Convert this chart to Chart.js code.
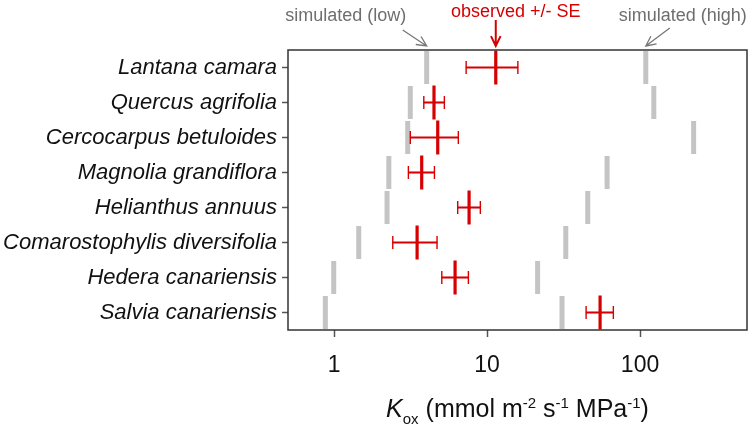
<!DOCTYPE html>
<html>
<head>
<meta charset="utf-8">
<script src="https://cdn.jsdelivr.net/npm/chart.js@4.4.0/dist/chart.umd.min.js"></script>
<style>
  html, body { margin: 0; padding: 0; background: #fff; }
  #wrap { width: 751px; height: 429px; }
</style>
</head>
<body>
<div id="wrap"><canvas id="koxChart"></canvas></div>
<script>
// Kox per species — simulated (low/high) vs observed +/- SE
const species = [
    'Lantana camara',
    'Quercus agrifolia',
    'Cercocarpus betuloides',
    'Magnolia grandiflora',
    'Helianthus annuus',
    'Comarostophylis diversifolia',
    'Hedera canariensis',
    'Salvia canariensis',
];
const simLow   = [4.03, 3.15, 3.03, 2.28, 2.22, 1.45, 0.995, 0.877];
const simHigh  = [109, 123, 224, 60.9, 45.5, 32.7, 21.4, 30.9];
const observed = [11.4, 4.5, 4.76, 3.74, 7.63, 3.49, 6.18, 54.8];
const seLow    = [7.3, 3.86, 3.15, 3.06, 6.43, 2.42, 5.06, 44.4];
const seHigh   = [15.9, 5.26, 6.49, 4.53, 9.04, 4.71, 7.55, 66.9];
const xTicks   = [1, 10, 100];

const RED  = '#d60000';
const GREY = '#c4c4c4';
const FONT = "'Liberation Sans', Arial, sans-serif";

const pts = vals => vals.map((v, i) => ({ x: v, y: species[i] }));

// frame around the plot area
const framePlugin = {
    id: 'frame',
    afterDatasetsDraw(chart) {
        const { ctx, chartArea: a } = chart;
        ctx.save();
        ctx.strokeStyle = '#333';
        ctx.lineWidth = 1.5;
        ctx.strokeRect(a.left, a.top, a.right - a.left, a.bottom - a.top);
        ctx.restore();
    }
};

function arrow(ctx, x0, y0, x1, y1, color, lw) {
    const ang = Math.atan2(y1 - y0, x1 - x0);
    const head = 11;
    ctx.strokeStyle = color;
    ctx.lineWidth = lw;
    ctx.beginPath();
    ctx.moveTo(x0, y0);
    ctx.lineTo(x1, y1);
    ctx.moveTo(x1 - head * Math.cos(ang - 0.45), y1 - head * Math.sin(ang - 0.45));
    ctx.lineTo(x1, y1);
    ctx.lineTo(x1 - head * Math.cos(ang + 0.45), y1 - head * Math.sin(ang + 0.45));
    ctx.stroke();
}

// labels + arrows above the first row
const annotatePlugin = {
    id: 'annotate',
    afterDraw(chart) {
        const { ctx, chartArea: a } = chart;
        const xs = chart.scales.x;
        const tipY = a.top - 4;
        const lowX  = xs.getPixelForValue(simLow[0]);
        const obsX  = xs.getPixelForValue(observed[0]);
        const highX = xs.getPixelForValue(simHigh[0]);
        ctx.save();
        ctx.font = '18px ' + FONT;
        ctx.textAlign = 'center';
        ctx.textBaseline = 'alphabetic';
        ctx.fillStyle = '#6e6e6e';
        ctx.fillText('simulated (low)', lowX - 81, 21);
        ctx.fillText('simulated (high)', highX + 37, 21);
        ctx.fillStyle = RED;
        ctx.fillText('observed +/- SE', obsX + 20, 17);
        arrow(ctx, lowX - 24, 30, lowX, tipY, '#777', 1.3);
        arrow(ctx, highX + 24, 28, highX, tipY, '#777', 1.3);
        arrow(ctx, obsX, 20, obsX, tipY, RED, 2);
        ctx.restore();
    }
};

// x axis title with italic K, subscript and superscripts
const titlePlugin = {
    id: 'xTitle',
    afterDraw(chart) {
        const { ctx, chartArea: a } = chart;
        const parts = [
            { t: 'K', f: 'italic 25px', dy: 0 },
            { t: 'ox', f: '15px', dy: 7 },
            { t: ' (mmol m', f: '25px', dy: 0 },
            { t: '-2', f: '15px', dy: -9 },
            { t: ' s', f: '25px', dy: 0 },
            { t: '-1', f: '15px', dy: -9 },
            { t: ' MPa', f: '25px', dy: 0 },
            { t: '-1', f: '15px', dy: -9 },
            { t: ')', f: '25px', dy: 0 },
        ];
        ctx.save();
        ctx.fillStyle = '#111';
        ctx.textBaseline = 'alphabetic';
        ctx.textAlign = 'left';
        let total = 0;
        parts.forEach(p => { ctx.font = p.f + ' ' + FONT; p.w = ctx.measureText(p.t).width; total += p.w; });
        let x = (a.left + a.right) / 2 - total / 2;
        const base = 417;
        parts.forEach(p => {
            ctx.font = p.f + ' ' + FONT;
            ctx.fillText(p.t, x, base + p.dy);
            x += p.w;
        });
        ctx.restore();
    }
};

const ctx = document.getElementById('koxChart');

new Chart(ctx, {
    type: 'scatter',
    data: {
        labels: species,
        datasets: [
            {
                label: 'observed',
                data: pts(observed),
                pointStyle: 'line',
                rotation: 90,
                radius: 17,
                borderWidth: 3.2,
                borderColor: RED,
                backgroundColor: RED,
                order: 0,
            },
            {
                label: 'SE caps',
                data: pts(seLow).concat(pts(seHigh)),
                pointStyle: 'line',
                rotation: 90,
                radius: 6.5,
                borderWidth: 1.4,
                borderColor: RED,
                backgroundColor: RED,
                order: 1,
            },
            {
                type: 'bar',
                label: 'SE',
                indexAxis: 'y',
                data: species.map((s, i) => [seLow[i], seHigh[i]]),
                backgroundColor: RED,
                borderWidth: 0,
                barThickness: 1.4,
                order: 2,
            },
            {
                label: 'simulated (low)',
                data: pts(simLow),
                pointStyle: 'line',
                rotation: 90,
                radius: 16.5,
                borderWidth: 5,
                borderColor: GREY,
                backgroundColor: GREY,
                order: 3,
            },
            {
                label: 'simulated (high)',
                data: pts(simHigh),
                pointStyle: 'line',
                rotation: 90,
                radius: 16.5,
                borderWidth: 5,
                borderColor: GREY,
                backgroundColor: GREY,
                order: 3,
            },
        ]
    },
    options: {
        responsive: true,
        maintainAspectRatio: false,
        animation: false,
        events: [],
        layout: { autoPadding: false, padding: { top: 50, right: 4, left: 0, bottom: 0 } },
        plugins: {
            legend: { display: false },
            tooltip: { enabled: false },
        },
        scales: {
            x: {
                type: 'logarithmic',
                min: 0.5,
                max: 500,
                afterBuildTicks: axis => { axis.ticks = xTicks.map(v => ({ value: v })); },
                afterFit: axis => { axis.height = 99; axis.paddingLeft = 0; axis.paddingRight = 0; },
                grid: { drawOnChartArea: false, tickLength: 7, color: '#555', tickWidth: 1.5 },
                border: { display: false },
                ticks: {
                    color: '#111',
                    font: { family: FONT, size: 23 },
                    padding: 15,
                    maxRotation: 0,
                    callback: v => String(v),
                },
            },
            y: {
                type: 'category',
                labels: species,
                offset: true,
                afterFit: axis => { axis.width = 288; },
                grid: { drawOnChartArea: false, offset: false, tickLength: 6, color: '#555', tickWidth: 1.5 },
                border: { display: false },
                ticks: {
                    color: '#111',
                    font: { family: FONT, size: 22, style: 'italic' },
                    padding: 5,
                },
            },
        },
    },
    plugins: [framePlugin, annotatePlugin, titlePlugin],
});
</script>
</body>
</html>
